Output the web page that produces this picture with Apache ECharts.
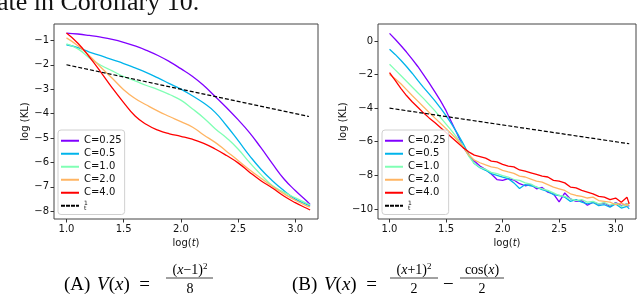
<!DOCTYPE html>
<html><head><meta charset="utf-8">
<script src="https://cdn.jsdelivr.net/npm/echarts@6/dist/echarts.min.js"></script>
<style>html,body{margin:0;padding:0;background:#fff}#c{width:640px;height:299px}</style>
</head><body><div id="c"></div>
<script>
// ---------- data ----------
const seriesNames = ['C=0.25','C=0.5','C=1.0','C=2.0','C=4.0','1/t'];
const xTicks = [1.0,1.5,2.0,2.5,3.0];
const yTicksLeft = [-1,-2,-3,-4,-5,-6,-7,-8];
const yTicksRight = [0,-2,-4,-6,-8,-10];

// panel A
const xLeft = [1.0,1.1,1.2,1.3,1.4,1.5,1.6,1.7,1.8,1.9,2.0,2.1,2.2,2.3,2.4,2.5,2.6,2.7,2.8,2.9,3.0,3.1,3.13];
const leftC025 = [-0.70,-0.74,-0.80,-0.87,-0.96,-1.08,-1.23,-1.41,-1.62,-1.87,-2.16,-2.47,-2.85,-3.30,-3.76,-4.25,-4.78,-5.40,-6.05,-6.67,-7.15,-7.58,-7.72];
const leftC05  = [-1.18,-1.30,-1.48,-1.63,-1.79,-1.95,-2.13,-2.32,-2.54,-2.77,-3.00,-3.27,-3.57,-3.95,-4.50,-5.10,-5.72,-6.28,-6.75,-7.15,-7.50,-7.72,-7.78];
const leftC1   = [-1.14,-1.35,-1.72,-2.02,-2.25,-2.48,-2.66,-2.85,-3.02,-3.22,-3.45,-3.80,-4.18,-4.62,-5.00,-5.45,-6.00,-6.50,-6.95,-7.22,-7.45,-7.68,-7.74];
const leftC2   = [-0.90,-1.22,-1.63,-2.10,-2.55,-3.02,-3.38,-3.65,-3.90,-4.12,-4.33,-4.55,-4.88,-5.18,-5.55,-5.92,-6.30,-6.65,-6.98,-7.28,-7.55,-7.78,-7.82];
const leftC4   = [-0.70,-1.12,-1.68,-2.30,-2.95,-3.55,-4.10,-4.45,-4.68,-4.83,-4.93,-5.05,-5.22,-5.45,-5.72,-6.02,-6.40,-6.75,-7.05,-7.38,-7.65,-7.88,-7.95];
const leftInvX = [1.0,3.12];
const leftInvT = [-2.0,-4.12];

// panel B
const xRight = [1.00,1.05,1.10,1.15,1.20,1.25,1.30,1.35,1.40,1.45,1.50,1.55,1.60,1.65,1.70,1.75,1.80,1.85,1.90,1.95,2.00,2.05,2.10,2.15,2.20,2.25,2.30,2.35,2.40,2.45,2.50,2.55,2.60,2.65,2.70,2.75,2.80,2.85,2.90,2.95,3.00,3.05,3.10,3.12];
const rightC025 = [0.45,0.10,-0.27,-0.66,-1.08,-1.52,-2.00,-2.50,-3.02,-3.55,-4.15,-4.85,-5.55,-6.30,-6.80,-7.15,-7.45,-7.65,-7.92,-8.25,-8.30,-8.20,-8.28,-8.50,-8.62,-8.55,-8.80,-8.72,-9.00,-9.10,-9.58,-9.05,-9.40,-9.55,-9.50,-9.78,-9.60,-9.72,-9.65,-9.85,-9.62,-9.80,-9.70,-9.85];
const rightC05  = [-0.49,-0.80,-1.15,-1.52,-1.92,-2.35,-2.76,-3.15,-3.55,-3.98,-4.45,-4.95,-5.50,-6.10,-6.75,-7.30,-7.55,-7.70,-7.90,-8.00,-8.10,-8.20,-8.45,-8.78,-8.55,-8.62,-8.70,-8.85,-8.95,-9.15,-9.20,-9.30,-9.55,-9.45,-9.60,-9.70,-9.62,-9.80,-9.75,-9.90,-9.70,-9.95,-9.85,-10.0];
const rightC1   = [-1.39,-1.72,-2.06,-2.40,-2.74,-3.08,-3.42,-3.78,-4.15,-4.55,-4.95,-5.35,-5.78,-6.25,-6.85,-7.30,-7.52,-7.65,-7.82,-7.90,-8.02,-8.10,-8.25,-8.30,-8.45,-8.52,-8.70,-8.80,-8.90,-9.05,-9.20,-9.25,-9.40,-9.50,-9.45,-9.60,-9.55,-9.70,-9.62,-9.78,-9.65,-9.85,-9.70,-9.80];
const rightC2   = [-2.00,-2.25,-2.55,-2.90,-3.25,-3.58,-3.92,-4.25,-4.58,-4.90,-5.22,-5.55,-5.90,-6.30,-6.78,-7.10,-7.25,-7.38,-7.50,-7.55,-7.70,-7.80,-7.88,-8.05,-8.10,-8.22,-8.35,-8.40,-8.55,-8.70,-8.80,-8.90,-9.10,-9.20,-9.25,-9.35,-9.30,-9.50,-9.55,-9.60,-9.75,-9.65,-9.80,-9.60];
const rightC4   = [-1.88,-2.35,-2.82,-3.25,-3.62,-3.95,-4.28,-4.58,-4.85,-5.15,-5.45,-5.75,-6.05,-6.35,-6.60,-6.80,-6.88,-6.98,-7.15,-7.20,-7.35,-7.45,-7.50,-7.68,-7.75,-7.85,-7.95,-8.05,-8.10,-8.30,-8.35,-8.45,-8.70,-8.75,-8.90,-9.00,-9.10,-9.25,-9.30,-9.45,-9.35,-9.60,-9.30,-9.70];
const rightInvX = [1.0,3.12];
const rightInvT = [-4.0,-6.12];

const colors = ['#8000ff','#00b4eb','#80ffb4','#ffb462','#ff0000','#000000'];

// ---------- chart ----------
const pairs = (xs, ys) => xs.map((x, i) => [x, ys[i]]);
const minus = v => String(v).replace('-', '\u2212');
const chart = echarts.init(document.getElementById('c'), null, {renderer: 'canvas'});

function xAxisCfg(gi, min, max) {
  return {
    type: 'value', gridIndex: gi, min: min, max: max, position: 'bottom',
    axisLine: {show: false, onZero: false}, splitLine: {show: false},
    axisTick: {show: true, customValues: xTicks, length: 3.5, lineStyle: {color: '#333', width: 1}},
    axisLabel: {customValues: xTicks, formatter: v => v.toFixed(1), margin: 5,
      color: '#111', fontSize: 10, fontFamily: 'DejaVu Sans'},
    name: '{a|log(}{b|t}{a|)}', nameLocation: 'middle', nameGap: 19,
    nameTextStyle: {rich: {a: {fontSize: 10, fontFamily: 'DejaVu Sans', color: '#111'},
                           b: {fontSize: 10, fontFamily: 'DejaVu Sans', fontStyle: 'italic', color: '#111'}}}
  };
}
function yAxisCfg(gi, min, max, ticks, gap) {
  return {
    type: 'value', gridIndex: gi, min: min, max: max, position: 'left',
    axisLine: {show: false, onZero: false}, splitLine: {show: false},
    axisTick: {show: true, customValues: ticks, length: 3.5, lineStyle: {color: '#333', width: 1}},
    axisLabel: {customValues: ticks, formatter: v => minus(v), margin: 5,
      color: '#111', fontSize: 10, fontFamily: 'DejaVu Sans'},
    name: 'log (KL)', nameLocation: 'middle', nameGap: gap, nameRotate: 90,
    nameTextStyle: {fontSize: 10, fontFamily: 'DejaVu Sans', color: '#111'}
  };
}
function lineSeries(name, idx, xs, ys, smooth, dashed) {
  return {
    name: name, type: 'line', xAxisIndex: idx, yAxisIndex: idx,
    data: pairs(xs, ys), symbol: 'none', smooth: smooth, animation: false,
    lineStyle: {color: colors[seriesNames.indexOf(name)], width: dashed ? 1.2 : 1.3,
                type: dashed ? [4, 2] : 'solid'},
    itemStyle: {color: colors[seriesNames.indexOf(name)]}
  };
}
const solidIcon = 'path://M0,0H18V2H0Z';
const dashIcon = 'path://M0,0H4V2H0Z M5,0H9V2H5Z M10,0H14V2H10Z M15,0H18V2H15Z';
function legendCfg(left) {
  return {
    orient: 'vertical', left: left, top: 130,
    data: seriesNames.map(n => ({name: n, icon: n === '1/t' ? dashIcon : solidIcon})),
    itemWidth: 18, itemHeight: 2, itemGap: 1.5,
    padding: [5, 3, 3, 3],
    borderColor: '#d0d0d0', borderWidth: 1, borderRadius: 3,
    backgroundColor: 'rgba(255,255,255,0.85)',
    textStyle: {fontSize: 10, fontFamily: 'DejaVu Sans', color: '#111', lineHeight: 11.5,
      rich: {f: {fontSize: 6, lineHeight: 5.5, fontFamily: 'DejaVu Sans', color: '#111'}}},
    formatter: n => n === '1/t' ? '{f|1}\n{f|t}' : n,
    selectedMode: false
  };
}

const serif = 'Liberation Serif';
const rich = {
  n: {fontSize: 19, fontFamily: serif, color: '#111'},
  i: {fontSize: 19, fontFamily: serif, fontStyle: 'italic', color: '#111'},
  sn: {fontSize: 14, fontFamily: serif, color: '#111'},
  si: {fontSize: 14, fontFamily: serif, fontStyle: 'italic', color: '#111'},
  sup: {fontSize: 9, fontFamily: serif, color: '#111', verticalAlign: 'top', padding: [0,0,6,0]}
};
const richText = (x, y, txt, align) => ({
  type: 'text', x: x, y: y, silent: true,
  style: {rich: rich, text: txt, verticalAlign: 'middle', align: align || 'left'}
});
const hline = (x1, x2, y) => ({type: 'line', silent: true, shape: {x1: x1, y1: y, x2: x2, y2: y},
  style: {stroke: '#111', lineWidth: 0.8}});

chart.setOption({
  animation: false,
  backgroundColor: '#fff',
  grid: [
    {left: 54, top: 24, width: 264, height: 195, show: true, borderColor: '#444', borderWidth: 1, backgroundColor: 'transparent'},
    {left: 378, top: 24, width: 258, height: 195, show: true, borderColor: '#444', borderWidth: 1, backgroundColor: 'transparent'}
  ],
  xAxis: [xAxisCfg(0, 0.891, 3.199), xAxisCfg(1, 0.898, 3.18)],
  yAxis: [yAxisCfg(0, -8.32, -0.33, yTicksLeft, 22), yAxisCfg(1, -10.6, 1.01, yTicksRight, 28)],
  legend: [legendCfg(58), legendCfg(382)],
  series: [
    lineSeries('C=0.25', 0, xLeft, leftC025, true),
    lineSeries('C=0.5', 0, xLeft, leftC05, true),
    lineSeries('C=1.0', 0, xLeft, leftC1, true),
    lineSeries('C=2.0', 0, xLeft, leftC2, true),
    lineSeries('C=4.0', 0, xLeft, leftC4, true),
    lineSeries('1/t', 0, leftInvX, leftInvT, false, true),
    lineSeries('C=0.25', 1, xRight, rightC025, false),
    lineSeries('C=0.5', 1, xRight, rightC05, false),
    lineSeries('C=1.0', 1, xRight, rightC1, false),
    lineSeries('C=2.0', 1, xRight, rightC2, false),
    lineSeries('C=4.0', 1, xRight, rightC4, false),
    lineSeries('1/t', 1, rightInvX, rightInvT, false, true)
  ],
  graphic: [
    {type: 'text', x: -3, y: 16, silent: true,
     style: {text: 'ate in Corollary 10.', fontSize: 26, fontFamily: serif, fill: '#111', verticalAlign: 'bottom'}},
    // caption A
    richText(64, 285, '{n|(A)}  {i|V}{n|(}{i|x}{n|)  =}'),
    richText(190, 270, '{sn|(}{si|x}{sn|\u22121)}{sup|2}', 'center'),
    hline(166, 213, 278),
    richText(190, 289, '{sn|8}', 'center'),
    // caption B
    richText(292, 285, '{n|(B)}  {i|V}{n|(}{i|x}{n|)  =}'),
    richText(414, 270, '{sn|(}{si|x}{sn|+1)}{sup|2}', 'center'),
    hline(390, 438, 278),
    richText(414, 289, '{sn|2}', 'center'),
    richText(443, 285, '{n|\u2212}'),
    richText(482, 270, '{sn|cos(}{si|x}{sn|)}', 'center'),
    hline(460, 504, 278),
    richText(482, 289, '{sn|2}', 'center')
  ]
});
</script></body></html>
